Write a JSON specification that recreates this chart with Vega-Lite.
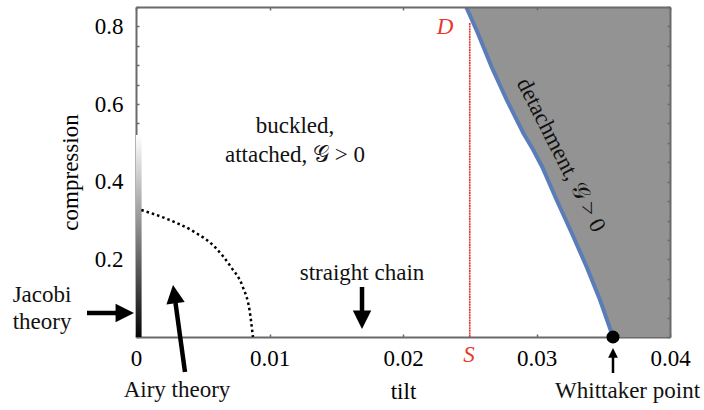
{
  "$schema": "https://vega.github.io/schema/vega-lite/v6.json",
  "width": 534,
  "height": 330,
  "autosize": {"type": "none"},
  "padding": {"left": 136, "top": 7, "right": 34, "bottom": 73},
  "config": {
    "view": {"stroke": null},
    "axis": {
      "domain": true, "domainColor": "#6a6a6a", "domainWidth": 2,
      "grid": false, "tickSize": -3, "tickColor": "#6a6a6a", "tickWidth": 1.5,
      "labelFont": "Liberation Serif", "labelFontSize": 23, "labelColor": "#000",
      "titleFont": "Liberation Serif", "titleFontSize": 23, "titleFontWeight": "normal", "titleColor": "#000"
    },
    "text": {"font": "Liberation Serif", "fontSize": 23}
  },
  "datasets": {
    "boundary": [
      {"tilt": 0.02464, "compression": 0.86},
      {"tilt": 0.02477, "compression": 0.8475},
      {"tilt": 0.0256, "compression": 0.7831},
      {"tilt": 0.02664, "compression": 0.6955},
      {"tilt": 0.02777, "compression": 0.6105},
      {"tilt": 0.02901, "compression": 0.5255},
      {"tilt": 0.02976, "compression": 0.4817},
      {"tilt": 0.03043, "compression": 0.4379},
      {"tilt": 0.03151, "compression": 0.3529},
      {"tilt": 0.03264, "compression": 0.2679},
      {"tilt": 0.03376, "compression": 0.1803},
      {"tilt": 0.03476, "compression": 0.0953},
      {"tilt": 0.03563, "compression": 0.0103},
      {"tilt": 0.03573, "compression": 0}
    ],
    "airy": [
      {"tilt": 0.0004, "compression": 0.327},
      {"tilt": 0.0024, "compression": 0.303},
      {"tilt": 0.0043, "compression": 0.272},
      {"tilt": 0.0059, "compression": 0.232},
      {"tilt": 0.0071, "compression": 0.181},
      {"tilt": 0.008, "compression": 0.129},
      {"tilt": 0.0085, "compression": 0.07},
      {"tilt": 0.00876, "compression": 0}
    ],
    "labels": [
      {"tilt": 0.01191, "compression": 0.5255, "label": "buckled,"},
      {"tilt": 0.01191, "compression": 0.4508, "label": "attached, 𝒢 > 0"},
      {"tilt": 0.01693, "compression": 0.1468, "label": "straight chain"},
      {"tilt": 0.00307, "compression": -0.1546, "label": "Airy theory"},
      {"tilt": 0.03682, "compression": -0.1571, "label": "Whittaker point"},
      {"tilt": -0.00704, "compression": 0.0902, "label": "Jacobi"},
      {"tilt": -0.00704, "compression": 0.0206, "label": "theory"}
    ],
    "shafts": [
      {"arrow": "Jacobi", "tilt": -0.00367, "compression": 0.0618, "tilt2": -0.0012, "compression2": 0.0618},
      {"arrow": "straight", "tilt": 0.01693, "compression": 0.1288, "tilt2": 0.01693, "compression2": 0.0618},
      {"arrow": "Airy", "tilt": 0.00367, "compression": -0.0902, "tilt2": 0.00296, "compression2": 0.0876},
      {"arrow": "Whittaker", "tilt": 0.03573, "compression": -0.0927, "tilt2": 0.03573, "compression2": -0.0464}
    ],
    "heads": [
      {"arrow": "Jacobi", "tilt": -0.00015, "compression": 0.0618},
      {"arrow": "straight", "tilt": 0.01693, "compression": 0.0206},
      {"arrow": "Airy", "tilt": 0.00277, "compression": 0.134},
      {"arrow": "Whittaker", "tilt": 0.03573, "compression": -0.0283}
    ]
  },
  "resolve": {"axis": {"x": "independent", "y": "independent"}},
  "layer": [
    {
      "data": {"name": "boundary"},
      "mark": {"type": "area", "orient": "horizontal", "color": "#939393", "clip": true},
      "encoding": {
        "y": {"field": "compression", "type": "quantitative",
          "scale": {"domain": [0, 0.85], "nice": false, "zero": false},
          "axis": {"orient": "left", "title": "compression", "titlePadding": 12, "labelPadding": 16,
            "values": [0, 0.05, 0.1, 0.15, 0.2, 0.25, 0.3, 0.35, 0.4, 0.45, 0.5, 0.55, 0.6, 0.65, 0.7, 0.75, 0.8, 0.85],
            "labelExpr": "(datum.value == 0.2 || datum.value == 0.4 || datum.value == 0.6 || datum.value == 0.8) ? format(datum.value, '.1f') : ''",
            "labelOverlap": false, "labelFlush": false}},
        "x": {"field": "tilt", "type": "quantitative",
          "scale": {"domain": [0, 0.04], "nice": false, "zero": false},
          "axis": {"orient": "bottom", "title": "tilt", "titlePadding": 10, "labelPadding": 13,
            "values": [0, 0.01, 0.02, 0.03, 0.04],
            "labelExpr": "datum.value == 0 ? '0' : format(datum.value, '.2f')",
            "labelOverlap": false, "labelFlush": false}},
        "x2": {"datum": 0.04}
      }
    },
    {
      "data": {"name": "boundary"},
      "mark": {"type": "line", "color": "#5a7db8", "strokeWidth": 4, "clip": true},
      "encoding": {
        "x": {"field": "tilt", "type": "quantitative",
          "scale": {"domain": [0, 0.04], "nice": false, "zero": false},
          "axis": {"orient": "top", "title": null, "labels": false, "zindex": 1, "values": [0, 0.01, 0.02, 0.03, 0.04]}},
        "y": {"field": "compression", "type": "quantitative",
          "scale": {"domain": [0, 0.85], "nice": false, "zero": false},
          "axis": {"orient": "right", "title": null, "labels": false, "zindex": 1,
            "values": [0, 0.05, 0.1, 0.15, 0.2, 0.25, 0.3, 0.35, 0.4, 0.45, 0.5, 0.55, 0.6, 0.65, 0.7, 0.75, 0.8, 0.85]}}
      }
    },
    {
      "data": {"values": [{"tilt": 0, "tilt2": 0.00042, "compression": 0, "compression2": 0.52}]},
      "mark": {"type": "rect", "fill": {"gradient": "linear", "x1": 0, "y1": 1, "x2": 0, "y2": 0,
        "stops": [{"offset": 0, "color": "#050505"}, {"offset": 1, "color": "#ffffff"}]}},
      "encoding": {
        "x": {"field": "tilt", "type": "quantitative", "scale": {"domain": [0, 0.04], "nice": false, "zero": false}, "axis": null},
        "x2": {"field": "tilt2"},
        "y": {"field": "compression", "type": "quantitative", "scale": {"domain": [0, 0.85], "nice": false, "zero": false}, "axis": null},
        "y2": {"field": "compression2"}
      }
    },
    {
      "data": {"values": [{"tilt": 0.025, "compression": 0, "compression2": 0.809}]},
      "mark": {"type": "rule", "color": "#e5352b", "strokeWidth": 1.6, "strokeDash": [2, 0.6]},
      "encoding": {
        "x": {"field": "tilt", "type": "quantitative", "scale": {"domain": [0, 0.04], "nice": false, "zero": false}, "axis": null},
        "y": {"field": "compression", "type": "quantitative", "scale": {"domain": [0, 0.85], "nice": false, "zero": false}, "axis": null},
        "y2": {"field": "compression2"}
      }
    },
    {
      "data": {"name": "airy"},
      "mark": {"type": "line", "color": "#000", "strokeWidth": 2.5, "strokeDash": [2.5, 3], "strokeCap": "butt", "interpolate": "monotone"},
      "encoding": {
        "x": {"field": "tilt", "type": "quantitative", "scale": {"domain": [0, 0.04], "nice": false, "zero": false}, "axis": null},
        "y": {"field": "compression", "type": "quantitative", "scale": {"domain": [0, 0.85], "nice": false, "zero": false}, "axis": null}
      }
    },
    {
      "data": {"name": "labels"},
      "mark": {"type": "text", "align": "center", "baseline": "alphabetic", "color": "#111", "clip": false},
      "encoding": {
        "x": {"field": "tilt", "type": "quantitative", "scale": {"domain": [0, 0.04], "nice": false, "zero": false}, "axis": null},
        "y": {"field": "compression", "type": "quantitative", "scale": {"domain": [0, 0.85], "nice": false, "zero": false}, "axis": null},
        "text": {"field": "label", "type": "nominal"}
      }
    },
    {
      "data": {"values": [{"tilt": 0.03184, "compression": 0.4688, "label": "detachment, 𝒢 > 0"}]},
      "mark": {"type": "text", "align": "center", "baseline": "middle", "angle": 63, "color": "#111"},
      "encoding": {
        "x": {"field": "tilt", "type": "quantitative", "scale": {"domain": [0, 0.04], "nice": false, "zero": false}, "axis": null},
        "y": {"field": "compression", "type": "quantitative", "scale": {"domain": [0, 0.85], "nice": false, "zero": false}, "axis": null},
        "text": {"field": "label", "type": "nominal"}
      }
    },
    {
      "data": {"values": [{"tilt": 0.02315, "compression": 0.7986, "label": "D"}, {"tilt": 0.02494, "compression": -0.0464, "label": "S"}]},
      "mark": {"type": "text", "align": "center", "baseline": "middle", "fontStyle": "italic", "color": "#e8382c", "clip": false},
      "encoding": {
        "x": {"field": "tilt", "type": "quantitative", "scale": {"domain": [0, 0.04], "nice": false, "zero": false}, "axis": null},
        "y": {"field": "compression", "type": "quantitative", "scale": {"domain": [0, 0.85], "nice": false, "zero": false}, "axis": null},
        "text": {"field": "label", "type": "nominal"}
      }
    },
    {
      "data": {"name": "shafts"},
      "transform": [{"filter": "datum.arrow != 'Whittaker'"}],
      "mark": {"type": "rule", "color": "#000", "strokeWidth": 4.5, "clip": false},
      "encoding": {
        "x": {"field": "tilt", "type": "quantitative", "scale": {"domain": [0, 0.04], "nice": false, "zero": false}, "axis": null},
        "y": {"field": "compression", "type": "quantitative", "scale": {"domain": [0, 0.85], "nice": false, "zero": false}, "axis": null},
        "x2": {"field": "tilt2"},
        "y2": {"field": "compression2"}
      }
    },
    {
      "data": {"name": "shafts"},
      "transform": [{"filter": "datum.arrow == 'Whittaker'"}],
      "mark": {"type": "rule", "color": "#000", "strokeWidth": 2.5, "clip": false},
      "encoding": {
        "x": {"field": "tilt", "type": "quantitative", "scale": {"domain": [0, 0.04], "nice": false, "zero": false}, "axis": null},
        "y": {"field": "compression", "type": "quantitative", "scale": {"domain": [0, 0.85], "nice": false, "zero": false}, "axis": null},
        "x2": {"field": "tilt2"},
        "y2": {"field": "compression2"}
      }
    },
    {
      "data": {"name": "heads"},
      "transform": [{"filter": "datum.arrow == 'Jacobi'"}],
      "mark": {"type": "point", "shape": "M0,0L-2,-1L-2,1Z", "size": 340, "filled": true, "color": "#000", "opacity": 1, "angle": 0, "clip": false},
      "encoding": {
        "x": {"field": "tilt", "type": "quantitative", "scale": {"domain": [0, 0.04], "nice": false, "zero": false}, "axis": null},
        "y": {"field": "compression", "type": "quantitative", "scale": {"domain": [0, 0.85], "nice": false, "zero": false}, "axis": null}
      }
    },
    {
      "data": {"name": "heads"},
      "transform": [{"filter": "datum.arrow == 'straight'"}],
      "mark": {"type": "point", "shape": "M0,0L-2,-1L-2,1Z", "size": 340, "filled": true, "color": "#000", "opacity": 1, "angle": 90, "clip": false},
      "encoding": {
        "x": {"field": "tilt", "type": "quantitative", "scale": {"domain": [0, 0.04], "nice": false, "zero": false}, "axis": null},
        "y": {"field": "compression", "type": "quantitative", "scale": {"domain": [0, 0.85], "nice": false, "zero": false}, "axis": null}
      }
    },
    {
      "data": {"name": "heads"},
      "transform": [{"filter": "datum.arrow == 'Airy'"}],
      "mark": {"type": "point", "shape": "M0,0L-2,-1L-2,1Z", "size": 340, "filled": true, "color": "#000", "opacity": 1, "angle": 262, "clip": false},
      "encoding": {
        "x": {"field": "tilt", "type": "quantitative", "scale": {"domain": [0, 0.04], "nice": false, "zero": false}, "axis": null},
        "y": {"field": "compression", "type": "quantitative", "scale": {"domain": [0, 0.85], "nice": false, "zero": false}, "axis": null}
      }
    },
    {
      "data": {"name": "heads"},
      "transform": [{"filter": "datum.arrow == 'Whittaker'"}],
      "mark": {"type": "point", "shape": "M0,0L-2,-1L-2,1Z", "size": 95, "filled": true, "color": "#000", "opacity": 1, "angle": 270, "clip": false},
      "encoding": {
        "x": {"field": "tilt", "type": "quantitative", "scale": {"domain": [0, 0.04], "nice": false, "zero": false}, "axis": null},
        "y": {"field": "compression", "type": "quantitative", "scale": {"domain": [0, 0.85], "nice": false, "zero": false}, "axis": null}
      }
    },
    {
      "data": {"values": [{"tilt": 0.03573, "compression": 0}]},
      "mark": {"type": "point", "shape": "circle", "size": 170, "filled": true, "color": "#000", "opacity": 1, "clip": false},
      "encoding": {
        "x": {"field": "tilt", "type": "quantitative", "scale": {"domain": [0, 0.04], "nice": false, "zero": false}, "axis": null},
        "y": {"field": "compression", "type": "quantitative", "scale": {"domain": [0, 0.85], "nice": false, "zero": false}, "axis": null}
      }
    }
  ]
}
